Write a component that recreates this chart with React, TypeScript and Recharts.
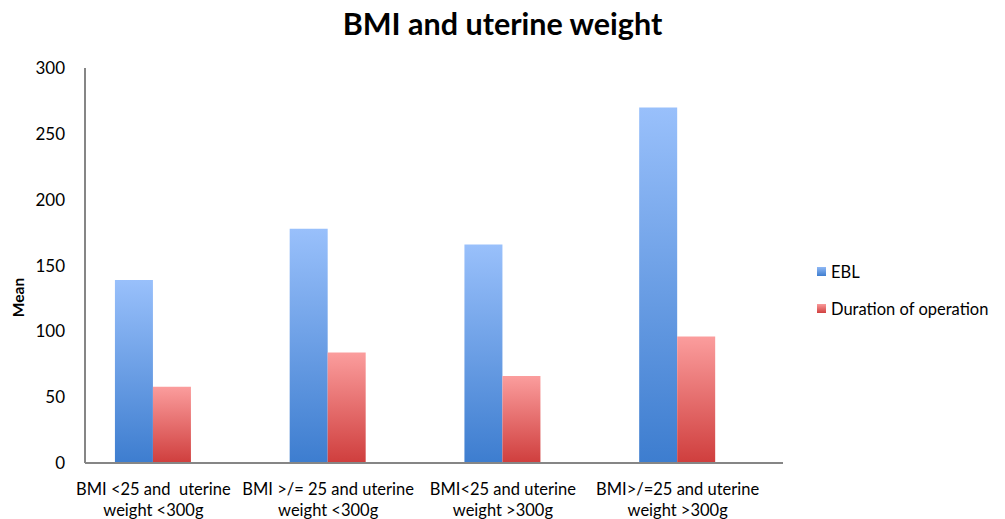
import { Bar, BarChart, XAxis, YAxis } from 'recharts';

const categories = [
    'BMI <25 and  uterine\nweight <300g',
    'BMI >/= 25 and uterine\nweight <300g',
    'BMI<25 and uterine\nweight >300g',
    'BMI>/=25 and uterine\nweight >300g',
];
const ebl = [139, 178, 166, 270];
const duration = [58, 84, 66, 96];
const yTicks = [0, 50, 100, 150, 200, 250, 300];
const seriesNames = ['EBL', 'Duration of operation'];

const data = categories.map((name, i) => ({
    name,
    ebl: ebl[i],
    duration: duration[i],
}));

const font = 'Lato, "Open Sans", sans-serif';
const swatches = ['linear-gradient(#8fb8f5, #3f7ecf)', 'linear-gradient(#f99a9a, #d0403f)'];

function CategoryTick(props: any) {
    const { x, y, payload } = props;
    const lines = String(payload.value).split('\n');
    return (
        <g transform={`translate(${x},${y})`}>
            {lines.map((line, i) => (
                <text
                    key={i}
                    x={0}
                    y={24 + i * 21}
                    textAnchor="middle"
                    fontSize={16.5}
                    fill="#000"
                    fontFamily={font}
                    style={{ whiteSpace: 'pre' }}
                >
                    {line}
                </text>
            ))}
        </g>
    );
}

function MeanLabel(props: any) {
    const { viewBox } = props;
    const x = viewBox.x + 24;
    const y = viewBox.y + viewBox.height / 2 + 32;
    return (
        <text
            x={x}
            y={y}
            transform={`rotate(-90, ${x}, ${y})`}
            textAnchor="middle"
            fontSize={15.5}
            fontWeight="bold"
            fill="#000"
            fontFamily={font}
        >
            Mean
        </text>
    );
}

export default function App() {
    return (
        <div style={{ position: 'absolute', left: 0, top: 0, width: 1005, height: 519 }}>
            <div
                style={{
                    position: 'absolute',
                    left: 0,
                    width: 1005,
                    top: 5,
                    textAlign: 'center',
                    fontFamily: font,
                    fontWeight: 'bold',
                    fontSize: 30.5,
                }}
            >
                BMI and uterine weight
            </div>
            <div
                style={{
                    position: 'absolute',
                    left: 817,
                    top: 253,
                    fontFamily: font,
                    fontSize: 16.5,
                    color: '#000',
                }}
            >
                {seriesNames.map((n, i) => (
                    <div key={n} style={{ display: 'flex', alignItems: 'center', height: 37 }}>
                        <span
                            style={{
                                width: 9,
                                height: 9,
                                marginRight: 5,
                                background: swatches[i],
                            }}
                        />
                        {n}
                    </div>
                ))}
            </div>
            <BarChart
                width={1005}
                height={519}
                data={data}
                margin={{ top: 68, right: 222, bottom: 0, left: 0 }}
                barCategoryGap="28%"
                barGap={0}
            >
                <defs>
                    <linearGradient id="gEbl" x1="0" y1="0" x2="0" y2="1">
                        <stop offset="0%" stopColor="#99c0fb" />
                        <stop offset="100%" stopColor="#3d7dcf" />
                    </linearGradient>
                    <linearGradient id="gDur" x1="0" y1="0" x2="0" y2="1">
                        <stop offset="0%" stopColor="#fb9d9d" />
                        <stop offset="100%" stopColor="#cf3e3d" />
                    </linearGradient>
                </defs>
                <XAxis
                    dataKey="name"
                    height={56}
                    padding={{ left: -19, right: 18 }}
                    axisLine={{ stroke: '#868686', strokeWidth: 2 }}
                    tickLine={false}
                    interval={0}
                    tick={<CategoryTick />}
                />
                <YAxis
                    width={85}
                    domain={[0, 300]}
                    ticks={yTicks}
                    axisLine={{ stroke: '#868686', strokeWidth: 2 }}
                    tickLine={false}
                    tickMargin={14}
                    tick={{ fontSize: 17, fill: '#000', fontFamily: font }}
                    label={<MeanLabel />}
                />
                <Bar dataKey="ebl" name={seriesNames[0]} fill="url(#gEbl)" isAnimationActive={false} />
                <Bar
                    dataKey="duration"
                    name={seriesNames[1]}
                    fill="url(#gDur)"
                    isAnimationActive={false}
                />
            </BarChart>
        </div>
    );
}
